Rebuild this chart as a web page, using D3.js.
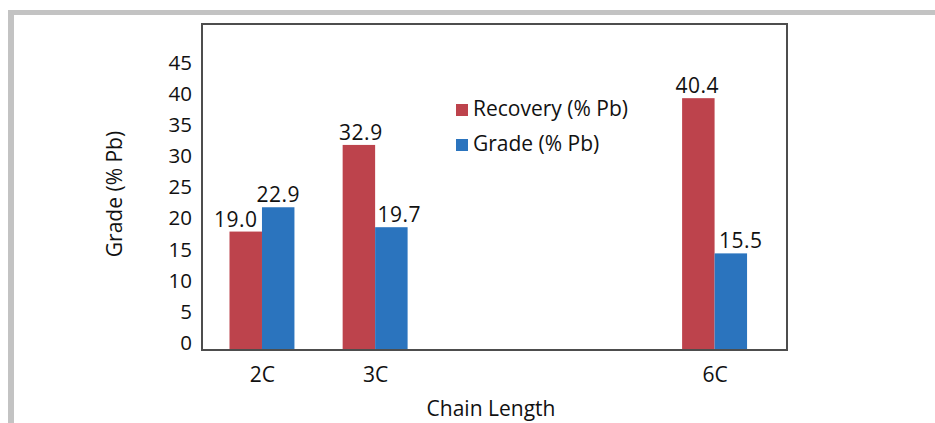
<!DOCTYPE html>
<html>
<head>
<meta charset="utf-8">
<script src="https://cdn.jsdelivr.net/npm/d3@7"></script>
<style>
  html, body { margin: 0; padding: 0; background: #fff; }
  svg { display: block; }
  text { font-family: "Open Sans", "DejaVu Sans", sans-serif; fill: #111; }
</style>
</head>
<body>
<div id="chart"></div>
<script>
// Flotation results by collector chain length
const categories = ["2C", "3C", "6C"];
const chainCarbons = [2, 3, 6];
const recovery = [19.0, 32.9, 40.4];   // Recovery (% Pb)
const grade = [22.9, 19.7, 15.5];      // Grade (% Pb)
const yTicks = [0, 5, 10, 15, 20, 25, 30, 35, 40, 45];
const seriesNames = ["Recovery (% Pb)", "Grade (% Pb)"];
const seriesColors = ["#bd434c", "#2b74be"];

const W = 935, H = 423;
const svg = d3.select("#chart").append("svg").attr("width", W).attr("height", H);

// outer page frame (top and left rules)
svg.append("rect").attr("x", 8).attr("y", 10).attr("width", W - 8).attr("height", 5).attr("fill", "#c3c3c3");
svg.append("rect").attr("x", 8).attr("y", 10).attr("width", 6).attr("height", H - 10).attr("fill", "#c3c3c3");

const plot = { left: 202, right: 787, top: 24, bottom: 350 };

// chain length is laid out on a numeric axis (carbon count)
const x = d3.scaleLinear().domain([1.47, 6.64]).range([plot.left, plot.right]);
const y = d3.scaleLinear().domain([0, 52.3]).range([plot.bottom, plot.top]);
const barW = x(2.287) - x(2);

const rows = categories.map((c, i) => ({ cat: c, n: chainCarbons[i], vals: [recovery[i], grade[i]] }));

// bars
const g = svg.append("g");
rows.forEach(r => {
  r.vals.forEach((v, s) => {
    g.append("rect")
      .attr("x", x(r.n) + (s - 1) * barW)
      .attr("y", y(v))
      .attr("width", barW)
      .attr("height", y(0) - y(v))
      .attr("fill", seriesColors[s]);
  });
});

// value labels (small horizontal nudges keep them clear of neighbours)
const labelNudge = [[-10, 0], [2, 8], [-1, 10]];
rows.forEach((r, i) => {
  r.vals.forEach((v, s) => {
    svg.append("text")
      .attr("x", x(r.n) + (s - 0.5) * barW + labelNudge[i][s])
      .attr("y", y(v) - 5)
      .attr("text-anchor", "middle")
      .attr("font-size", 21)
      .attr("letter-spacing", 0.5)
      .text(v.toFixed(1));
  });
});

// plot frame
svg.append("rect")
  .attr("x", plot.left).attr("y", plot.top)
  .attr("width", plot.right - plot.left).attr("height", plot.bottom - plot.top)
  .attr("fill", "none").attr("stroke", "#4d4d4d").attr("stroke-width", 2);

// y axis labels
const yAxis = d3.axisLeft(y).tickValues(yTicks).tickSize(0).tickPadding(10);
const ya = svg.append("g").attr("transform", `translate(${plot.left},0)`).call(yAxis);
ya.select(".domain").remove();
ya.selectAll("text")
  .attr("font-size", 20.5)
  .attr("font-family", "Open Sans, sans-serif")
  .attr("fill", "#111")
  .attr("dy", "0.32em")
  .attr("y", -7);

// x axis labels
const xAxis = d3.axisBottom(x).tickValues(chainCarbons).tickFormat((d, i) => categories[i]).tickSize(0).tickPadding(0);
const xa = svg.append("g").attr("transform", `translate(0,${plot.bottom})`).call(xAxis);
xa.select(".domain").remove();
xa.selectAll("text")
  .attr("font-size", 21)
  .attr("font-family", "Open Sans, sans-serif")
  .attr("fill", "#111")
  .attr("dy", null)
  .attr("y", 32);

// axis titles
svg.append("text")
  .attr("x", 491).attr("y", 416)
  .attr("text-anchor", "middle")
  .attr("font-size", 21)
  .text("Chain Length");

svg.append("text")
  .attr("transform", "translate(122,194) rotate(-90)")
  .attr("text-anchor", "middle")
  .attr("font-size", 21)
  .text("Grade (% Pb)");

// legend
const legend = svg.append("g");
seriesNames.forEach((name, s) => {
  const ly = 116 + s * 35;
  legend.append("rect")
    .attr("x", 456).attr("y", ly - 12)
    .attr("width", 12).attr("height", 12)
    .attr("fill", seriesColors[s]);
  legend.append("text")
    .attr("x", 473).attr("y", ly)
    .attr("font-size", 21)
    .text(name);
});
</script>
</body>
</html>
